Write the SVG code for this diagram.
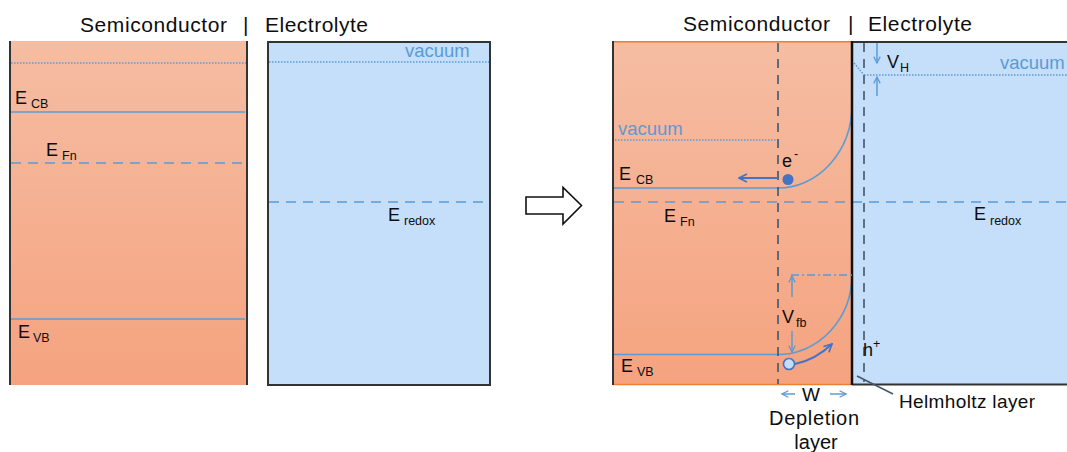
<svg xmlns="http://www.w3.org/2000/svg" width="1067" height="452" viewBox="0 0 1067 452">
<defs>
  <linearGradient id="sc" x1="0" y1="0" x2="0" y2="1">
    <stop offset="0" stop-color="#f5bda3"/>
    <stop offset="1" stop-color="#f5a37f"/>
  </linearGradient>
  <marker id="ah" viewBox="0 0 10 10" refX="9" refY="5" markerWidth="8" markerHeight="8" markerUnits="userSpaceOnUse" orient="auto">
    <path d="M1 1 L9 5 L1 9" fill="none" stroke="#5b9bd5" stroke-width="1.6"/>
  </marker>
  <marker id="ahd" viewBox="0 0 10 10" refX="9" refY="5" markerWidth="10" markerHeight="10" markerUnits="userSpaceOnUse" orient="auto">
    <path d="M1 1 L9 5 L1 9" fill="none" stroke="#4472c4" stroke-width="1.6"/>
  </marker>
</defs>
<style>
  text { font-family: "Liberation Sans", Arial, sans-serif; fill: #0d0d0d; }
  .title { font-size: 21px; }
  .E { font-size: 18px; }
  .sub { font-size: 12.5px; }
  .vac { font-size: 18.5px; fill: #5b9bd5; }
  .lbl { font-size: 19px; }
  .band { fill: none; stroke: #5b9bd5; stroke-width: 1.6; }
  .fermi { fill: none; stroke: #5b9bd5; stroke-width: 1.6; stroke-dasharray: 10 7; }
  .vacl { fill: none; stroke: #5b9bd5; stroke-width: 1.5; stroke-dasharray: 1.5 1.5; }
  .vdash { fill: none; stroke: #44546a; stroke-width: 1.6; stroke-dasharray: 9 7; }
  .arr { fill: none; stroke: #5b9bd5; stroke-width: 1.5; marker-end: url(#ah); }
</style>

<!-- LEFT: before contact -->
<g id="left-semiconductor">
  <rect x="10" y="41" width="237" height="344" fill="url(#sc)"/>
  <line x1="10" y1="41" x2="10" y2="385" stroke="#333" stroke-width="2"/>
  <line x1="247" y1="41" x2="247" y2="385" stroke="#333" stroke-width="2"/>
  <line class="vacl" x1="11" y1="63" x2="246" y2="63"/>
  <line class="band" x1="11" y1="112" x2="245" y2="112"/>
  <line class="fermi" x1="11" y1="163" x2="245" y2="163"/>
  <line class="band" x1="11" y1="319" x2="245" y2="319"/>
  <text class="E" x="15" y="104">E</text><text class="sub" x="31" y="108">CB</text>
  <text class="E" x="46" y="156">E</text><text class="sub" x="62" y="160">Fn</text>
  <text class="E" x="18" y="338">E</text><text class="sub" x="33" y="342">VB</text>
</g>
<g id="left-electrolyte">
  <rect x="268" y="42" width="222" height="343" fill="#c5dffa" stroke="#333" stroke-width="2"/>
  <line class="vacl" x1="269" y1="62" x2="489" y2="62"/>
  <text class="vac" x="405" y="57">vacuum</text>
  <line class="fermi" x1="269" y1="202" x2="487" y2="202"/>
  <text class="E" x="388" y="221">E</text><text class="sub" x="404" y="225">redox</text>
</g>
<g id="left-titles">
  <text class="title" x="80" y="32" textLength="147" lengthAdjust="spacing">Semiconductor</text>
  <text class="title" x="243" y="32">|</text>
  <text class="title" x="265" y="32" textLength="103" lengthAdjust="spacing">Electrolyte</text>
</g>

<!-- transition arrow -->
<g id="block-arrow">
  <polygon points="526,197 563,197 563,187.5 581.5,205.5 563,224 563,214 526,214" fill="#fff" stroke="#111" stroke-width="1.6" stroke-linejoin="miter"/>
</g>

<!-- RIGHT: after contact -->
<g id="right-semiconductor">
  <rect x="613" y="41" width="239" height="344" fill="url(#sc)"/>
  <line x1="613" y1="41.7" x2="852" y2="41.7" stroke="#ed7d31" stroke-width="1.5"/>
  <line x1="613" y1="384.5" x2="852" y2="384.5" stroke="#ed7d31" stroke-width="1.5"/>
  <line x1="613" y1="41" x2="613" y2="385" stroke="#333" stroke-width="2"/>
  <line class="vacl" x1="615" y1="140" x2="777" y2="140"/>
  <text class="vac" x="618" y="135">vacuum</text>
  <path class="band" d="M614 188 H778 A74 83 0 0 0 852 105"/>
  <path class="band" d="M614 354.5 H778 A74 80 0 0 0 852 275"/>
  <text class="E" x="619" y="180">E</text><text class="sub" x="636" y="184">CB</text>
  <text class="E" x="664" y="222">E</text><text class="sub" x="680" y="226">Fn</text>
  <text class="E" x="621" y="372">E</text><text class="sub" x="637" y="376">VB</text>
</g>
<g id="right-electrolyte">
  <rect x="852" y="41" width="216" height="344" fill="#c5dffa"/>
  <line x1="852" y1="42" x2="1067" y2="42" stroke="#333" stroke-width="2"/>
  <line x1="852" y1="384.5" x2="1067" y2="384.5" stroke="#333" stroke-width="2"/>
  <line class="vacl" x1="864" y1="75" x2="1067" y2="75"/>
  <line class="vacl" x1="854" y1="63" x2="864" y2="75"/>
  <text class="vac" x="1000" y="69">vacuum</text>
  <text class="E" x="974" y="220">E</text><text class="sub" x="990" y="225">redox</text>
</g>
<g id="fermi-redox">
  <line class="fermi" x1="614" y1="202" x2="1067" y2="202"/>
</g>
<g id="interface">
  <line x1="852" y1="41" x2="852" y2="385" stroke="#111" stroke-width="2.5"/>
</g>
<g id="depletion-boundary">
  <line class="vdash" x1="778" y1="43" x2="778" y2="384"/>
</g>
<g id="helmholtz-boundary">
  <line class="vdash" x1="864" y1="43" x2="864" y2="382"/>
</g>
<g id="VH">
  <line class="arr" x1="877" y1="43" x2="877" y2="63"/>
  <line class="arr" x1="877" y1="96" x2="877" y2="77"/>
  <text class="E" x="887" y="68">V</text><text class="sub" x="900" y="72">H</text>
</g>
<g id="Vfb">
  <line x1="791" y1="275" x2="852" y2="275" stroke="#5b9bd5" stroke-width="1.5" stroke-dasharray="8 3 2 3"/>
  <line class="arr" x1="792" y1="297" x2="792" y2="276"/>
  <line class="arr" x1="792" y1="331" x2="792" y2="352"/>
  <text class="E" x="782" y="323">V</text><text class="sub" x="796" y="327">fb</text>
</g>
<g id="electron">
  <line x1="778" y1="178" x2="739" y2="178" stroke="#4472c4" stroke-width="2" marker-end="url(#ahd)"/>
  <circle cx="788" cy="179.5" r="5.5" fill="#4472c4"/>
  <text class="E" x="782" y="167">e</text><text class="sub" x="794" y="158">-</text>
</g>
<g id="hole">
  <path d="M795 364 Q815 360 832 344" fill="none" stroke="#4472c4" stroke-width="2" marker-end="url(#ahd)"/>
  <circle cx="789" cy="364" r="5.5" fill="#c5dffa" stroke="#4472c4" stroke-width="1.6"/>
  <text class="E" x="863" y="356">h</text><text class="sub" x="873" y="348">+</text>
</g>
<g id="depletion-label">
  <line class="arr" x1="795" y1="394" x2="782" y2="394"/>
  <line class="arr" x1="830" y1="394" x2="846" y2="394"/>
  <text class="lbl" x="811" y="401" text-anchor="middle">W</text>
  <text x="814" y="425" text-anchor="middle" font-size="20" textLength="90" lengthAdjust="spacing">Depletion</text>
  <text x="816" y="449" text-anchor="middle" font-size="20">layer</text>
</g>
<g id="helmholtz-label">
  <line x1="857" y1="376" x2="893" y2="394" stroke="#44546a" stroke-width="1.5"/>
  <text class="lbl" x="899" y="408" textLength="136" lengthAdjust="spacing">Helmholtz layer</text>
</g>
<g id="right-titles">
  <text class="title" x="683" y="31" textLength="147" lengthAdjust="spacing">Semiconductor</text>
  <text class="title" x="848" y="31">|</text>
  <text class="title" x="868" y="31" textLength="104" lengthAdjust="spacing">Electrolyte</text>
</g>
</svg>
